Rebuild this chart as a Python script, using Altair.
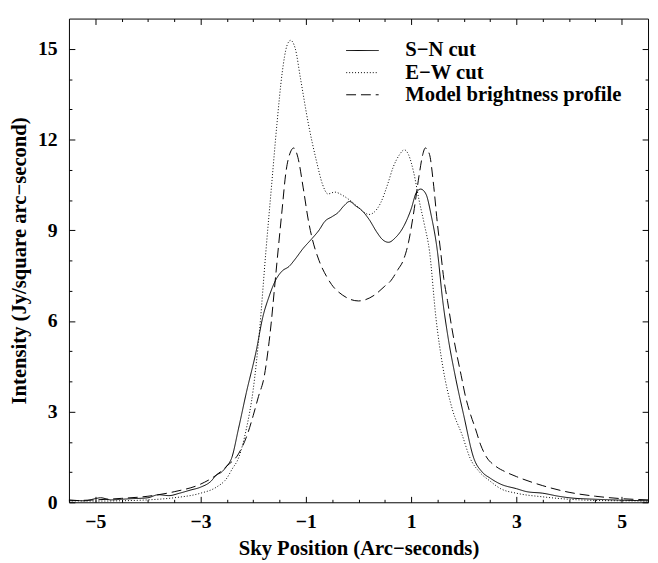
import altair as alt
import pandas as pd

# ---------------- data ----------------
sn_x = [-5.5, -5.2, -5.0, -4.9, -4.7, -4.5, -4.3, -4.0, -3.8, -3.6, -3.4, -3.2, -3.0, -2.8,
        -2.7, -2.6, -2.5, -2.41, -2.28, -2.13, -1.94, -1.82, -1.7, -1.57, -1.45, -1.32, -1.2,
        -1.05, -0.89, -0.75, -0.64, -0.5, -0.39, -0.28, -0.17, -0.05, 0.04, 0.2, 0.35, 0.45,
        0.57, 0.7, 0.85, 1.0, 1.1, 1.18, 1.28, 1.38, 1.5, 1.6, 1.69, 1.85, 2.0, 2.19, 2.35,
        2.5, 2.7, 3.0, 3.2, 3.5, 3.8, 4.0, 4.5, 5.0, 5.5]
sn_y = [0.08, 0.05, 0.12, 0.15, 0.08, 0.10, 0.12, 0.15, 0.25, 0.22, 0.30, 0.40, 0.50, 0.70,
        0.90, 1.00, 1.20, 1.46, 2.43, 3.63, 5.03, 6.11, 6.80, 7.36, 7.65, 7.80, 8.05,
        8.40, 8.71, 9.00, 9.29, 9.45, 9.58, 9.80, 9.95, 9.80, 9.69, 9.36, 8.93, 8.70,
        8.60, 8.75, 9.10, 9.70, 10.25, 10.36, 10.20, 9.50, 8.29, 6.67, 5.58, 4.07, 2.87, 1.46, 1.00,
        0.80, 0.60, 0.45, 0.35, 0.30, 0.20, 0.15, 0.10, 0.07, 0.05]

ew_x = [-5.5, -5.0, -4.5, -4.0, -3.5, -3.0, -2.7, -2.5, -2.4, -2.28, -2.13, -2.0, -1.88, -1.76,
        -1.65, -1.55, -1.45, -1.36, -1.29, -1.2, -1.1, -0.95, -0.8, -0.68, -0.58, -0.45, -0.3,
        -0.14, 0.0, 0.2, 0.3, 0.42, 0.55, 0.66, 0.78, 0.87, 0.95, 1.05, 1.15, 1.25, 1.35, 1.47,
        1.6, 1.78, 1.97, 2.12, 2.3, 2.5, 2.7, 3.0, 3.5, 4.0, 4.5, 5.0, 5.5]
ew_y = [0.05, 0.04, 0.05, 0.08, 0.15, 0.30, 0.50, 0.80, 1.10, 1.46, 2.43, 3.73, 5.68, 8.28,
        10.5, 12.5, 14.2, 15.1, 15.28, 15.0, 14.0, 12.5, 11.3, 10.5, 10.2, 10.26, 10.15,
        9.96, 9.75, 9.52, 9.60, 9.90, 10.5, 11.09, 11.5, 11.66, 11.5, 10.9, 10.0, 9.2, 8.29, 6.12,
        4.5, 3.09, 2.22, 1.46, 1.00, 0.70, 0.45, 0.30, 0.18, 0.10, 0.06, 0.05, 0.04]

mod_x = [-5.5, -5.0, -4.5, -4.0, -3.5, -3.0, -2.7, -2.5, -2.28, -2.1, -2.0, -1.9, -1.79, -1.72,
         -1.66, -1.6, -1.54, -1.45, -1.38, -1.3, -1.23, -1.15, -1.05, -0.95, -0.89, -0.75, -0.6,
         -0.51, -0.3, 0.0, 0.3, 0.5, 0.6, 0.75, 0.85, 0.95, 1.05, 1.15, 1.22, 1.27, 1.35, 1.42,
         1.5, 1.56, 1.62, 1.69, 1.77, 1.85, 1.95, 2.03, 2.12, 2.22, 2.32, 2.43, 2.6, 2.8, 3.0,
         3.5, 4.0, 4.5, 5.0, 5.5]
mod_y = [0.05, 0.08, 0.13, 0.20, 0.35, 0.60, 0.90, 1.20, 1.60, 2.30, 2.87, 3.50, 4.17, 5.00,
         5.90, 7.00, 8.10, 9.70, 10.9, 11.55, 11.72, 11.4, 10.4, 9.3, 8.8, 8.0, 7.45,
         7.20, 6.85, 6.66, 6.85, 7.15, 7.30, 7.70, 8.00, 8.60, 9.60, 10.8, 11.5, 11.72, 11.5, 10.6,
         9.2, 8.3, 7.4, 6.67, 5.8, 5.04, 4.2, 3.52, 2.95, 2.44, 1.90, 1.50, 1.20, 1.00, 0.85,
         0.55, 0.33, 0.20, 0.12, 0.08]

series_names = ["S\u2212N cut", "E\u2212W cut", "Model brightness profile"]

x_major = [-5, -3, -1, 1, 3, 5]
x_minor = [-4.5, -4, -3.5, -2.5, -2, -1.5, -0.5, 0, 0.5, 1.5, 2, 2.5, 3.5, 4, 4.5]
y_major = [0, 3, 6, 9, 12, 15]
y_minor = [1, 2, 4, 5, 7, 8, 10, 11, 13, 14]

x_title = "Sky Position (Arc\u2212seconds)"
y_title = "Intensity (Jy/square arc\u2212second)"

# ---------------- build table ----------------
rows = []
for name, xs_, ys_ in zip(series_names, [sn_x, ew_x, mod_x], [sn_y, ew_y, mod_y]):
    for xv, yv in zip(xs_, ys_):
        rows.append({"series": name, "x": xv, "y": yv})
df = pd.DataFrame(rows)

FONT = "Liberation Serif"
xs = alt.Scale(domain=[-5.5, 5.5], nice=False, zero=False)
ys = alt.Scale(domain=[0, 16], nice=False, zero=False)


def ax(orient, values, size, labels=False, title=None, **kw):
    args = dict(orient=orient, values=values, tickSize=size, offset=-size,
                labels=labels, domain=False, grid=False, ticks=True,
                tickColor="black", tickWidth=1)
    args["title"] = title
    args.update(kw)
    return alt.Axis(**args)


lines = alt.Chart(df).mark_line(color="black", strokeWidth=1, interpolate="monotone").encode(
    x=alt.X("x:Q", scale=xs,
            axis=ax("bottom", x_major, 6, labels=True, title=x_title,
                    labelPadding=10, titlePadding=6, format="d")),
    y=alt.Y("y:Q", scale=ys,
            axis=ax("left", y_major, 6, labels=True, title=y_title,
                    labelPadding=12, titlePadding=8, format="d")),
    strokeDash=alt.StrokeDash(
        "series:N",
        scale=alt.Scale(domain=series_names, range=[[1, 0], [1, 2], [10, 5]]),
        sort=series_names,
        legend=alt.Legend(title=None, orient="none", legendX=288, legendY=22,
                          symbolType="M-2,0H2", symbolSize=272, symbolStrokeWidth=1,
                          symbolStrokeColor="black", labelFont=FONT, labelFontSize=21,
                          labelFontWeight="bold", labelColor="black", rowPadding=0.5,
                          labelOffset=33, labelLimit=0)),
    detail="series:N",
)


def aux(xaxis, yaxis):
    return alt.Chart(df).transform_filter("false").mark_line().encode(
        x=alt.X("x:Q", scale=xs, axis=xaxis),
        y=alt.Y("y:Q", scale=ys, axis=yaxis),
    )


layers = [
    lines,
    aux(ax("bottom", x_minor, 3), ax("left", y_minor, 3)),
    aux(ax("top", x_major, 6), ax("right", y_major, 6)),
    aux(ax("top", x_minor, 3), ax("right", y_minor, 3)),
]

chart = alt.layer(*layers).resolve_axis(x="independent", y="independent").properties(
    width=589, height=492,
    padding={"left": 1, "top": 5, "right": 0, "bottom": 0},
).configure_view(stroke="black", strokeWidth=1).configure_axis(
    labelFont=FONT, labelFontSize=20, labelFontWeight="bold", labelColor="black",
    titleFont=FONT, titleFontSize=21, titleFontWeight="bold", titleColor="black",
)

chart.save("out.html", embed_options={"renderer": "svg", "actions": False})
